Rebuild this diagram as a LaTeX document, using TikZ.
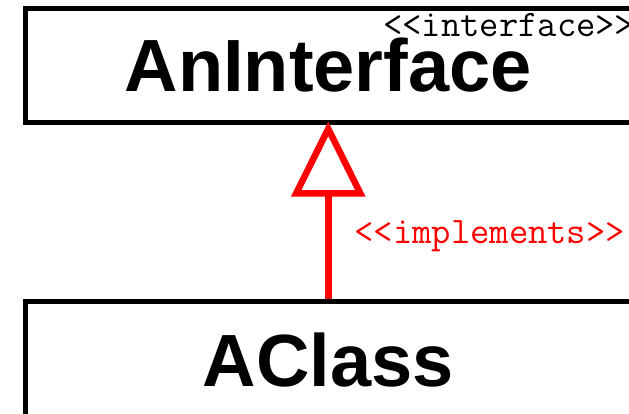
\documentclass[tikz,border=0pt]{standalone}
\usepackage{fontspec}
\setsansfont{Liberation Sans}
\usetikzlibrary{arrows.meta}
\begin{document}
\begin{tikzpicture}[x=1bp,y=-1bp,
  umlbox/.style={draw, line width=5bp, rectangle, minimum width=605.5bp, inner sep=0pt,
    font=\fontsize{74bp}{80bp}\selectfont\sffamily\bfseries},
  stereo/.style={anchor=base west, inner sep=0pt, font=\fontsize{37.5bp}{41bp}\selectfont\ttfamily},
  implements/.style={draw, red, line width=6.5bp, shorten >=-3bp,
    -{Triangle[open, length=75bp, width=73bp]}}]
\useasboundingbox (0,0) rectangle (629,413);
\clip (0,0) rectangle (629,413);
\node[umlbox, minimum height=113.5bp] (iface) at (328.25,65.25) {AnInterface};
\node[stereo] (ifacestereo) at (383,36) {<<interface>>};
\node[umlbox, minimum height=117bp] (cls) at (328.25,360) {AClass};

\path[implements] (cls.north) -- (iface.south) node[pos=0.32, stereo, text=red, xshift=23bp] (impl) {<<implements>>};
\end{tikzpicture}
\end{document}
